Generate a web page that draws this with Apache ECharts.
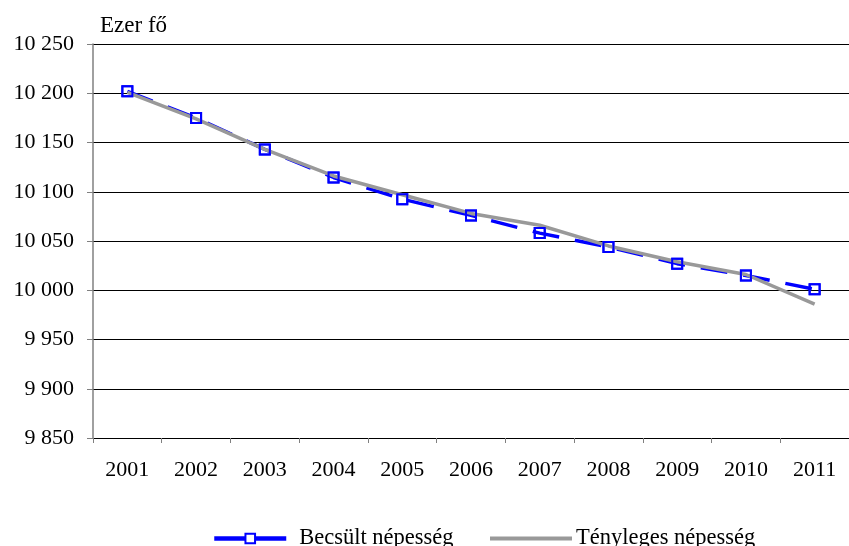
<!DOCTYPE html>
<html>
<head>
<meta charset="utf-8">
<script src="https://cdn.jsdelivr.net/npm/echarts@6/dist/echarts.min.js"></script>
<style>
  html, body { margin: 0; padding: 0; background: #fff; }
  #chart { width: 849px; height: 546px; }
</style>
</head>
<body>
<div id="chart"></div>
<script>
// Population estimate vs. actual population (thousand persons)
const years = ['2001', '2002', '2003', '2004', '2005', '2006', '2007', '2008', '2009', '2010', '2011'];
const estimated = [10202, 10175, 10143, 10114.5, 10092.5, 10076, 10058, 10044, 10027, 10015, 10001];
const actual = [10201, 10174, 10143, 10116, 10097, 10078, 10066, 10045, 10029, 10016, 9986];
const yTicks = { min: 9850, max: 10250, step: 50 };
const unitLabel = 'Ezer fő';
const estName = 'Becsült népesség';
const actName = 'Tényleges népesség';

const FONT = "'Liberation Serif', 'Times New Roman', serif";
const BLUE = '#0000ff';
const GREY = '#999999';

function groupThousands(v) {
  return String(v).replace(/\B(?=(\d{3})+(?!\d))/g, ' ');
}

const chart = echarts.init(document.getElementById('chart'), null, { renderer: 'canvas' });

const markerStyle = {
  color: 'rgba(255,255,255,0)',
  borderColor: BLUE,
  borderWidth: 2
};

chart.setOption({
  animation: false,
  backgroundColor: '#fff',
  textStyle: { fontFamily: FONT, color: '#000' },
  grid: { left: 93, top: 44, bottom: 108, right: -10, containLabel: false },
  xAxis: {
    type: 'category',
    data: years,
    boundaryGap: true,
    axisLine: { show: true, lineStyle: { color: '#000', width: 1 } },
    axisTick: { show: true, interval: 0, length: 5, lineStyle: { color: '#808080', width: 1 } },
    axisLabel: { interval: 0, margin: 21, fontSize: 22, fontFamily: FONT, color: '#000' },
    splitLine: { show: false }
  },
  yAxis: {
    type: 'value',
    min: yTicks.min,
    max: yTicks.max,
    interval: yTicks.step,
    name: unitLabel,
    nameLocation: 'end',
    nameGap: 7,
    nameTextStyle: { fontFamily: FONT, fontSize: 23, color: '#000', align: 'left', verticalAlign: 'bottom', padding: [0, 0, 0, 7] },
    axisLine: { show: true, lineStyle: { color: '#808080', width: 1.5 } },
    axisTick: { show: true, length: 6, lineStyle: { color: '#808080', width: 1 } },
    axisLabel: { margin: 19, fontSize: 22, fontFamily: FONT, color: '#000', formatter: groupThousands },
    splitLine: { show: true, lineStyle: { color: '#000', width: 1 } }
  },
  legend: [
    {
      left: 212,
      top: 527,
      padding: 0,
      itemWidth: 72,
      itemHeight: 12,
      itemGap: 0,
      textStyle: { fontFamily: FONT, fontSize: 22.5, color: '#000', padding: [0, 0, 0, 8] },
      data: [{
        name: estName,
        lineStyle: { type: 'solid', width: 4.5, color: BLUE },
        itemStyle: { color: '#fff', borderColor: BLUE, borderWidth: 2 }
      }]
    },
    {
      left: 488,
      top: 527,
      padding: 0,
      itemWidth: 82,
      itemHeight: 12,
      itemGap: 0,
      textStyle: { fontFamily: FONT, fontSize: 22.5, color: '#000', padding: [0, 0, 0, -1] },
      data: [{
        name: actName,
        lineStyle: { width: 4, color: GREY },
        itemStyle: { opacity: 0 }
      }]
    }
  ],
  series: [
    {
      // dashed estimate line, drawn below the actual line
      name: estName,
      type: 'line',
      data: estimated,
      z: 1,
      symbol: 'rect',
      symbolSize: 10,
      showAllSymbol: true,
      itemStyle: markerStyle,
      lineStyle: { color: BLUE, width: 3.5, type: [27, 16] }
    },
    {
      name: actName,
      type: 'line',
      data: actual,
      z: 2,
      symbol: 'none',
      itemStyle: { color: GREY },
      lineStyle: { color: GREY, width: 3.5, type: 'solid' }
    },
    {
      // hollow square markers of the estimate, on top of both lines
      name: estName,
      type: 'line',
      data: estimated,
      z: 3,
      symbol: 'rect',
      symbolSize: 10,
      showAllSymbol: true,
      itemStyle: markerStyle,
      lineStyle: { width: 0, opacity: 0 }
    }
  ]
});
</script>
</body>
</html>
